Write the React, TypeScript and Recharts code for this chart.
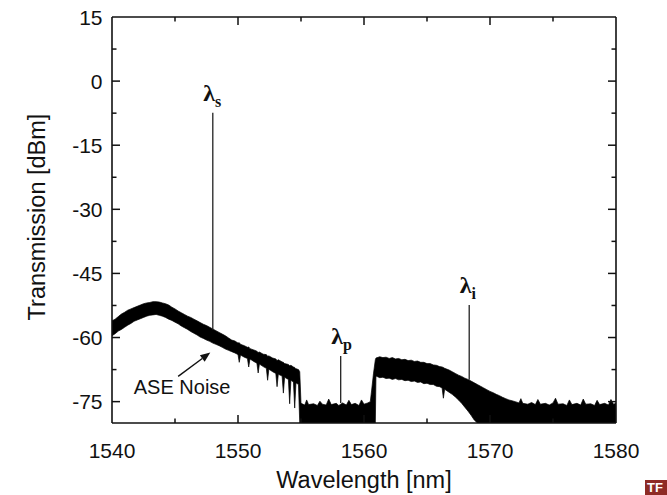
import React from 'react';
import { ComposedChart, Area, XAxis, YAxis, ReferenceLine, Label } from 'recharts';

const SANS = '"Liberation Sans", Arial, Helvetica, sans-serif';
const SERIF = '"Liberation Serif", "Times New Roman", serif';
const INK = '#111111';

const xTickLabels = [1540, 1550, 1560, 1570, 1580];
const xInnerTicks = [1545, 1550, 1555, 1560, 1565, 1570, 1575];
const yTickLabels = [15, 0, -15, -30, -45, -60, -75];
const yInnerTicks = [7.5, 0, -7.5, -15, -22.5, -30, -37.5, -45, -52.5, -60, -67.5, -75];
const xMajorSet = [1540, 1550, 1560, 1570, 1580];
const yMajorSet = [15, 0, -15, -30, -45, -60, -75];

// [wavelength nm, lower edge dBm, upper edge dBm]
const aseBand: [number, number, number][] = [
  [1540.0, -59.6, -56.1], [1540.25, -59.1, -55.7], [1540.5, -58.5, -55.1], [1540.75, -58.1, -54.5],
  [1541.0, -57.6, -54.1], [1541.25, -57.1, -53.6], [1541.5, -56.7, -53.3], [1541.75, -56.2, -53.0],
  [1542.0, -55.9, -52.7], [1542.25, -55.6, -52.4], [1542.5, -55.3, -52.1], [1542.75, -55.0, -51.9],
  [1543.0, -54.8, -51.8], [1543.25, -54.7, -51.6], [1543.5, -54.6, -51.6], [1543.75, -54.8, -51.7],
  [1544.0, -55.0, -51.9], [1544.25, -55.3, -52.1], [1544.5, -55.7, -52.4], [1544.75, -56.0, -52.9],
  [1545.0, -56.4, -53.3], [1545.25, -56.8, -53.8], [1545.5, -57.3, -54.2], [1545.75, -57.7, -54.6],
  [1546.0, -58.1, -55.0], [1546.25, -58.6, -55.3], [1546.5, -59.0, -55.7], [1546.75, -59.4, -56.1],
  [1547.0, -59.9, -56.5], [1547.25, -60.2, -56.9], [1547.5, -60.6, -57.2], [1547.75, -60.9, -57.6],
  [1548.0, -61.3, -58.0], [1548.25, -61.6, -58.4], [1548.5, -61.9, -58.8], [1548.75, -62.3, -59.2],
  [1549.0, -62.7, -59.6], [1549.25, -63.0, -60.1], [1549.5, -63.3, -60.6], [1549.75, -63.6, -60.8],
  [1550.0, -64.0, -61.3], [1550.1, -65.8, -61.2], [1550.2, -64.1, -61.6], [1550.5, -64.6, -61.9],
  [1550.75, -64.9, -62.3], [1550.85, -66.9, -62.2], [1550.95, -65.0, -62.6], [1551.25, -65.6, -62.9],
  [1551.5, -66.0, -63.2], [1551.6, -68.3, -63.5], [1551.7, -66.2, -63.4], [1552.0, -66.8, -63.9],
  [1552.25, -67.2, -64.0], [1552.35, -70.0, -64.4], [1552.45, -67.4, -64.3], [1552.75, -68.0, -64.8],
  [1553.0, -68.4, -65.0], [1553.1, -71.5, -65.4], [1553.2, -68.6, -65.2], [1553.5, -69.0, -65.7],
  [1553.6, -73.0, -65.8], [1553.7, -69.3, -66.1], [1554.0, -69.8, -66.3], [1554.1, -75.5, -66.6],
  [1554.2, -70.0, -66.5], [1554.4, -70.4, -66.9], [1554.5, -76.5, -67.0], [1554.6, -70.6, -67.3],
  [1554.8, -71.0, -67.5], [1554.9, -80.0, -68.0],
];

const pumpGap: [number, number, number][] = [
  [1555.0, -80, -75.4], [1555.3, -80, -75.8], [1555.45, -80, -74.6], [1555.6, -80, -75.7],
  [1556.0, -80, -75.5], [1556.3, -80, -75.9], [1556.5, -80, -74.9], [1556.7, -80, -75.6],
  [1557.0, -80, -75.8], [1557.2, -80, -74.4], [1557.4, -80, -75.7], [1557.8, -80, -75.4],
  [1558.0, -80, -75.9], [1558.3, -80, -75.3], [1558.6, -80, -75.8], [1558.8, -80, -74.7],
  [1559.0, -80, -75.7], [1559.3, -80, -75.4], [1559.6, -80, -75.9], [1559.8, -80, -74.6],
  [1560.0, -80, -75.6], [1560.3, -80, -75.3], [1560.5, -80, -75.0], [1560.6, -80, -72.5],
  [1560.75, -80, -68.5], [1560.9, -80, -65.2],
];

const idlerBand: [number, number, number][] = [
  [1560.95, -69.0, -64.8], [1561.25, -69.4, -64.5], [1561.5, -69.3, -64.7], [1561.75, -69.6, -64.6],
  [1562.0, -69.5, -64.9], [1562.25, -69.8, -64.7], [1562.5, -69.6, -65.0], [1562.75, -69.9, -64.9],
  [1563.0, -69.8, -65.2], [1563.25, -70.1, -65.1], [1563.5, -70.0, -65.4], [1563.75, -70.3, -65.3],
  [1564.0, -70.2, -65.6], [1564.25, -70.5, -65.5], [1564.5, -70.4, -65.8], [1564.75, -70.8, -65.8],
  [1565.0, -70.7, -66.1], [1565.25, -71.0, -66.1], [1565.5, -71.0, -66.4], [1565.75, -71.4, -66.5],
  [1566.0, -71.5, -66.8], [1566.2, -71.8, -66.9], [1566.3, -74.2, -67.0], [1566.4, -72.1, -67.2],
  [1566.75, -72.8, -67.6], [1567.0, -73.3, -68.0], [1567.25, -73.9, -68.4], [1567.5, -74.6, -68.8],
  [1567.75, -75.4, -69.1], [1568.0, -76.3, -69.5], [1568.25, -77.2, -69.8], [1568.5, -78.2, -70.2],
  [1568.75, -79.3, -70.6], [1569.0, -80, -71.0], [1569.25, -80, -71.4], [1569.5, -80, -71.8],
  [1569.75, -80, -72.2], [1570.0, -80, -72.6], [1570.25, -80, -72.9], [1570.5, -80, -73.3],
  [1570.75, -80, -73.6], [1571.0, -80, -74.0], [1571.25, -80, -74.3], [1571.5, -80, -74.6],
  [1571.75, -80, -74.8], [1572.0, -80, -75.0], [1572.3, -80, -75.3], [1572.45, -80, -74.3],
  [1572.6, -80, -75.4], [1573.0, -80, -75.6], [1573.3, -80, -75.2], [1573.6, -80, -75.7],
  [1573.8, -80, -74.5], [1574.0, -80, -75.6], [1574.4, -80, -75.4], [1574.7, -80, -75.8],
  [1575.0, -80, -75.3], [1575.2, -80, -74.2], [1575.4, -80, -75.6], [1575.8, -80, -75.5],
  [1576.1, -80, -75.9], [1576.3, -80, -74.6], [1576.5, -80, -75.7], [1576.9, -80, -75.4],
  [1577.2, -80, -75.8], [1577.4, -80, -74.4], [1577.6, -80, -75.6], [1578.0, -80, -75.5],
  [1578.3, -80, -75.9], [1578.5, -80, -74.7], [1578.7, -80, -75.7], [1579.1, -80, -75.4],
  [1579.4, -80, -75.8], [1579.6, -80, -74.5], [1579.8, -80, -75.6], [1580.0, -80, -75.4],
];

const spikes = [
  { sub: 's', nm: 1548.0, base: -58.2, peak: -7.4 },
  { sub: 'p', nm: 1558.15, base: -75.3, peak: -64.3 },
  { sub: 'i', nm: 1568.35, base: -69.9, peak: -52.4 },
];

const aseNote = { text: 'ASE Noise', tail: { nm: 1545.25, db: -69.1 }, head: { nm: 1547.8, db: -63.5 } };

const X_MIN = 1540;
const X_MAX = 1580;
const Y_MIN = -80;
const Y_MAX = 15;

const chartData = [...aseBand, ...pumpGap, ...idlerBand].map(([nm, lo, hi]) => ({ nm, range: [lo, hi] }));

const tickLen = (major: boolean) => (major ? 8 : 4.5);

function BottomLabel(props: any) {
  const { x, payload } = props;
  return (
    <text x={x} y={458} textAnchor="middle" fontFamily={SANS} fontSize={21} fill={INK}>
      {payload.value}
    </text>
  );
}

function LeftLabel(props: any) {
  const { y, payload } = props;
  return (
    <text x={102.5} y={y} dy="0.36em" textAnchor="end" fontFamily={SANS} fontSize={21} fill={INK}>
      {payload.value}
    </text>
  );
}

// vertical reference line -> tick marks at top and bottom edges of plot
const xTickShape = (v: number) => (props: any) => {
  const { x1, y1, y2 } = props;
  const top = Math.min(y1, y2);
  const bot = Math.max(y1, y2);
  const L = tickLen(xMajorSet.includes(v));
  return (
    <g>
      <line x1={x1} x2={x1} y1={top} y2={top + L} stroke={INK} strokeWidth={1.5} />
      <line x1={x1} x2={x1} y1={bot} y2={bot - L} stroke={INK} strokeWidth={1.5} />
    </g>
  );
};

// horizontal reference line -> tick marks at left and right edges of plot
const yTickShape = (v: number) => (props: any) => {
  const { x1, x2, y1 } = props;
  const left = Math.min(x1, x2);
  const right = Math.max(x1, x2);
  const L = tickLen(yMajorSet.includes(v));
  return (
    <g>
      <line x1={left} x2={left + L} y1={y1} y2={y1} stroke={INK} strokeWidth={1.5} />
      <line x1={right} x2={right - L} y1={y1} y2={y1} stroke={INK} strokeWidth={1.5} />
    </g>
  );
};

const spikeShape = (sub: string) => (props: any) => {
  const { x1, y1, x2, y2 } = props;
  return (
    <g>
      <line x1={x1} y1={y1} x2={x2} y2={y2} stroke="#222" strokeWidth={1.3} />
      <text x={x2 - 9.5} y={y2 - 12} fontFamily={SERIF} fontSize={24} fontWeight="bold" fill={INK}>
        λ
        <tspan fontSize={16} dy={6}>
          {sub}
        </tspan>
      </text>
    </g>
  );
};

const arrowShape = (props: any) => {
  const { x1, y1, x2, y2 } = props;
  const dx = x2 - x1;
  const dy = y2 - y1;
  const len = Math.sqrt(dx * dx + dy * dy) || 1;
  const ux = dx / len;
  const uy = dy / len;
  const hl = 10;
  const hw = 4;
  const bx = x2 - ux * hl;
  const by = y2 - uy * hl;
  const pts = `${x2},${y2} ${bx - uy * hw},${by + ux * hw} ${bx + uy * hw},${by - ux * hw}`;
  return (
    <g>
      <line x1={x1} y1={y1} x2={bx} y2={by} stroke={INK} strokeWidth={1.4} />
      <polygon points={pts} fill={INK} />
      <text x={x1 + 4} y={y1 + 18} textAnchor="middle" fontFamily={SANS} fontSize={20} fill={INK}>
        {aseNote.text}
      </text>
    </g>
  );
};

const axisLineStyle = { stroke: INK, strokeWidth: 1.6 };

export default function App() {
  return (
    <div style={{ position: 'absolute', left: 0, top: 0, width: 667, height: 495, background: '#fff' }}>
      <ComposedChart width={667} height={495} data={chartData} margin={{ top: 17, right: 51, bottom: 0, left: 0 }}>
        <XAxis
          dataKey="nm"
          type="number"
          domain={[X_MIN, X_MAX]}
          ticks={xTickLabels}
          interval={0}
          tickLine={false}
          tick={<BottomLabel />}
          axisLine={axisLineStyle}
          height={72}
          allowDataOverflow
        >
          <Label
            content={(p: any) => {
              const vb = p.viewBox || { x: 112, y: 423, width: 504 };
              return (
                <text x={vb.x + vb.width / 2} y={vb.y + 65} textAnchor="middle" fontFamily={SANS} fontSize={23.5} fill={INK}>
                  Wavelength [nm]
                </text>
              );
            }}
          />
        </XAxis>
        <YAxis
          type="number"
          domain={[Y_MIN, Y_MAX]}
          ticks={yTickLabels}
          interval={0}
          tickLine={false}
          tick={<LeftLabel />}
          axisLine={axisLineStyle}
          width={112}
          allowDataOverflow
        >
          <Label
            content={(p: any) => {
              const vb = p.viewBox || { x: 0, y: 17 };
              const cx = vb.x + 45;
              const cy = vb.y + 200;
              return (
                <text x={cx} y={cy} transform={`rotate(-90, ${cx}, ${cy})`} textAnchor="middle" fontFamily={SANS} fontSize={23.5} fill={INK}>
                  Transmission [dBm]
                </text>
              );
            }}
          />
        </YAxis>
        <Area
          dataKey="range"
          type="linear"
          stroke="#000"
          strokeWidth={0.7}
          fill="#000"
          fillOpacity={1}
          dot={false}
          activeDot={false}
          isAnimationActive={false}
        />
        <ReferenceLine y={Y_MAX} stroke={INK} strokeWidth={1.6} ifOverflow="visible" />
        <ReferenceLine x={X_MAX} stroke={INK} strokeWidth={1.6} ifOverflow="visible" />
        {xInnerTicks.map((v) => (
          <ReferenceLine key={`xt${v}`} x={v} ifOverflow="visible" shape={xTickShape(v)} />
        ))}
        {yInnerTicks.map((v) => (
          <ReferenceLine key={`yt${v}`} y={v} ifOverflow="visible" shape={yTickShape(v)} />
        ))}
        {spikes.map((s) => (
          <ReferenceLine
            key={s.sub}
            segment={[
              { x: s.nm, y: s.base },
              { x: s.nm, y: s.peak },
            ]}
            ifOverflow="visible"
            shape={spikeShape(s.sub)}
          />
        ))}
        <ReferenceLine
          segment={[
            { x: aseNote.tail.nm, y: aseNote.tail.db },
            { x: aseNote.head.nm, y: aseNote.head.db },
          ]}
          ifOverflow="visible"
          shape={arrowShape}
        />
      </ComposedChart>
      <div
        style={{
          position: 'absolute',
          left: 645,
          top: 480,
          width: 20,
          height: 15,
          paddingLeft: 2,
          background: '#8e2b25',
          color: '#fff',
          fontFamily: SANS,
          fontWeight: 'bold',
          fontSize: 13,
          lineHeight: '15px',
          overflow: 'hidden',
        }}
      >
        TF
      </div>
    </div>
  );
}
